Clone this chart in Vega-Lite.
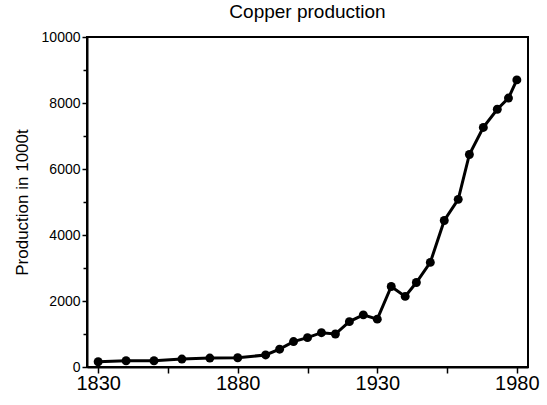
{
  "$schema": "https://vega.github.io/schema/vega-lite/v6.json",
  "autosize": "none",
  "width": 441,
  "height": 330,
  "padding": {"left": 87, "top": 37, "right": 19, "bottom": 38},
  "background": "white",
  "title": {
    "text": "Copper production",
    "font": "Liberation Sans",
    "fontSize": 19,
    "fontWeight": "normal",
    "color": "black",
    "anchor": "middle",
    "offset": 8
  },
  "config": {
    "view": {"stroke": "black", "strokeWidth": 2},
    "axis": {
      "grid": false,
      "domainColor": "black",
      "domainWidth": 2,
      "tickColor": "black",
      "tickWidth": 1.5,
      "labelColor": "black",
      "titleColor": "black"
    }
  },
  "data": {
    "values": [
      {"year": 1830, "production": 160},
      {"year": 1840, "production": 190},
      {"year": 1850, "production": 190},
      {"year": 1860, "production": 240},
      {"year": 1870, "production": 270},
      {"year": 1880, "production": 280},
      {"year": 1890, "production": 365},
      {"year": 1895, "production": 540},
      {"year": 1900, "production": 770},
      {"year": 1905, "production": 890},
      {"year": 1910, "production": 1040},
      {"year": 1915, "production": 1000},
      {"year": 1920, "production": 1375},
      {"year": 1925, "production": 1580},
      {"year": 1930, "production": 1450},
      {"year": 1935, "production": 2440},
      {"year": 1940, "production": 2140},
      {"year": 1944, "production": 2560},
      {"year": 1949, "production": 3170},
      {"year": 1954, "production": 4440},
      {"year": 1959, "production": 5080},
      {"year": 1963, "production": 6440},
      {"year": 1968, "production": 7260},
      {"year": 1973, "production": 7810},
      {"year": 1977, "production": 8150},
      {"year": 1980, "production": 8700}
    ]
  },
  "mark": {
    "type": "line",
    "color": "black",
    "strokeWidth": 3,
    "point": {"filled": true, "size": 80, "color": "black", "opacity": 1}
  },
  "encoding": {
    "x": {
      "field": "year",
      "type": "quantitative",
      "scale": {"domain": [1826, 1984], "nice": false, "zero": false},
      "axis": {
        "title": null,
        "values": [1830, 1855, 1880, 1905, 1930, 1955, 1980],
        "format": "d",
        "labelExpr": "datum.value % 50 == 30 ? datum.label : ''",
        "labelFont": "Liberation Sans",
        "labelFontSize": 20,
        "labelPadding": 0,
        "labelFlush": false,
        "labelOverlap": false,
        "tickSize": 6
      }
    },
    "y": {
      "field": "production",
      "type": "quantitative",
      "scale": {"domain": [0, 10000], "nice": false},
      "axis": {
        "title": "Production in 1000t",
        "titleFont": "Liberation Sans",
        "titleFontSize": 17,
        "titleFontWeight": "normal",
        "titlePadding": 10,
        "values": [0, 1000, 2000, 3000, 4000, 5000, 6000, 7000, 8000, 9000, 10000],
        "format": "d",
        "labelExpr": "datum.value % 2000 == 0 ? datum.label : ''",
        "labelFont": "Liberation Sans",
        "labelFontSize": 14,
        "labelPadding": 2,
        "labelOverlap": false,
        "labelFlush": false,
        "tickSize": {"condition": {"test": "datum.value % 2000 == 0", "value": 5}, "value": 4}
      }
    }
  }
}
